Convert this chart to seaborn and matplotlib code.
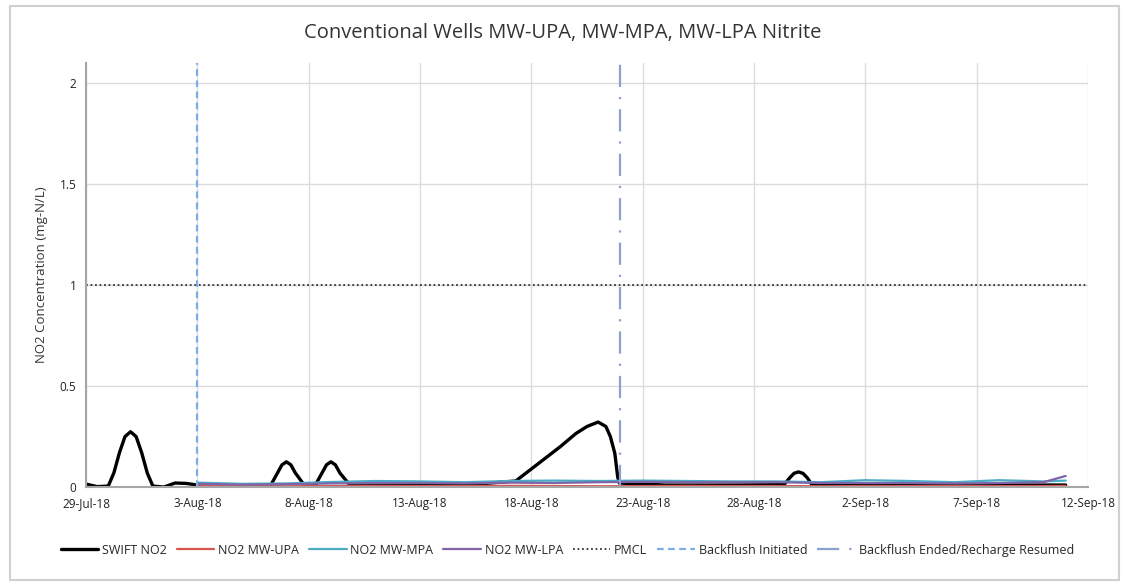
import matplotlib
matplotlib.use("Agg")
import matplotlib.pyplot as plt
import matplotlib.dates as mdates
from matplotlib.patches import Rectangle
import seaborn as sns
import pandas as pd
import numpy as np

# ---------------- data (days after 29-Jul-2018, values in mg-N/L) ----------------
start_date = "2018-07-29"

swift_days = [0, 0.5, 1.0, 1.25, 1.5, 1.75, 2.0, 2.25, 2.5, 2.75, 3.0, 3.5, 4.0, 4.5, 5.0,
              7.0, 8.3, 8.6, 8.8, 9.0, 9.2, 9.4, 9.8, 10.3, 10.6, 10.8, 11.0, 11.2, 11.4, 11.85,
              14.0, 17.0, 19.3, 20.3, 21.3, 22.0, 22.5, 23.0, 23.35, 23.55, 23.75, 23.88, 23.95,
              26.0, 29.0, 31.35, 31.6, 31.8, 32.0, 32.2, 32.4, 32.6, 35.0, 38.0, 41.0, 44.0]
swift_vals = [0.015, 0.002, 0.005, 0.07, 0.17, 0.25, 0.274, 0.25, 0.17, 0.07, 0.005, 0.0, 0.02, 0.018, 0.01,
              0.008, 0.01, 0.07, 0.11, 0.125, 0.11, 0.07, 0.01, 0.01, 0.07, 0.11, 0.125, 0.11, 0.07, 0.01,
              0.01, 0.01, 0.03, 0.115, 0.2, 0.265, 0.3, 0.322, 0.3, 0.25, 0.167, 0.05, 0.02,
              0.01, 0.01, 0.012, 0.045, 0.068, 0.075, 0.068, 0.045, 0.012, 0.01, 0.01, 0.01, 0.01]

well_days = [5, 7, 9, 11, 13, 15, 17, 19, 21, 23, 25, 27, 29, 31, 33, 35, 37, 39, 41, 43, 44]
upa_vals = [0.006, 0.005, 0.004, 0.005, 0.006, 0.005, 0.005, 0.006, 0.005, 0.004, 0.005, 0.006,
            0.005, 0.005, 0.004, 0.005, 0.005, 0.006, 0.005, 0.005, 0.006]
mpa_vals = [0.022, 0.016, 0.018, 0.025, 0.03, 0.028, 0.024, 0.03, 0.032, 0.03, 0.032, 0.03,
            0.028, 0.028, 0.024, 0.034, 0.03, 0.024, 0.034, 0.028, 0.032]
lpa_vals = [0.016, 0.012, 0.014, 0.018, 0.02, 0.02, 0.018, 0.022, 0.02, 0.024, 0.026, 0.024,
            0.024, 0.024, 0.02, 0.02, 0.02, 0.018, 0.02, 0.024, 0.055]

pmcl_value = 1.0
backflush_initiated_day = 5.0
backflush_ended_day = 24.0

x_tick_days = [0, 5, 10, 15, 20, 25, 30, 35, 40, 45]
y_ticks = [0, 0.5, 1, 1.5, 2]
y_tick_labels = ["0", "0.5", "1", "1.5", "2"]

title = "Conventional Wells MW-UPA, MW-MPA, MW-LPA Nitrite"
ylabel = "NO2 Concentration (mg-N/L)"

# ---------------- build frames ----------------
t0 = pd.Timestamp(start_date)
def to_dates(days):
    return t0 + pd.to_timedelta(np.asarray(days, dtype=float), unit="D")

df_swift = pd.DataFrame({"date": to_dates(swift_days), "value": swift_vals})
df_upa = pd.DataFrame({"date": to_dates(well_days), "value": upa_vals})
df_mpa = pd.DataFrame({"date": to_dates(well_days), "value": mpa_vals})
df_lpa = pd.DataFrame({"date": to_dates(well_days), "value": lpa_vals})

# ---------------- plot ----------------
sns.set_theme(style="white")
plt.rcParams["font.family"] = ["Open Sans", "DejaVu Sans"]

fig = plt.figure(figsize=(11.26, 5.84), dpi=100)
ax = fig.add_axes([0.0764, 0.166, 0.8898, 0.726])

sns.lineplot(data=df_swift, x="date", y="value", ax=ax, color="black", lw=2.4, label="SWIFT NO2")
sns.lineplot(data=df_upa, x="date", y="value", ax=ax, color="#d9534f", lw=1.6, label="NO2 MW-UPA")
sns.lineplot(data=df_mpa, x="date", y="value", ax=ax, color="#4bacc6", lw=1.6, label="NO2 MW-MPA")
sns.lineplot(data=df_lpa, x="date", y="value", ax=ax, color="#7f64a8", lw=1.6, label="NO2 MW-LPA")

ax.axhline(pmcl_value, color="#333333", lw=1.3, ls=(0, (1, 1.5)), label="PMCL")
ax.axvline(to_dates([backflush_initiated_day])[0], color="#7aaee6", lw=1.6,
           ls=(0, (3, 2)), label="Backflush Initiated")
ax.axvline(to_dates([backflush_ended_day])[0], color="#8aa2d2", lw=1.6,
           ls=(0, (10, 4.5, 1, 4.5)), label="Backflush Ended/Recharge Resumed")

ax.set_xlim(to_dates([0])[0], to_dates([45])[0])
ax.set_ylim(0, 2.1)
ax.set_xticks(to_dates(x_tick_days))
ax.xaxis.set_major_formatter(plt.FuncFormatter(
    lambda v, p: (lambda d: f"{d.day}-{d.strftime('%b-%y')}")(mdates.num2date(v))))
ax.set_yticks(y_ticks)
ax.set_yticklabels(y_tick_labels)
ax.tick_params(axis="both", labelsize=8.5, colors="#222222", length=0, pad=7)

ax.grid(True, color="#dcdcdc", lw=1.0)
ax.set_axisbelow(True)
for s in ["top", "right"]:
    ax.spines[s].set_visible(False)
for s in ["left", "bottom"]:
    ax.spines[s].set_color("#a6a6a6")
    ax.spines[s].set_linewidth(1.5)

ax.set_xlabel("")
ax.set_ylabel(ylabel, fontsize=9.5, color="#333333", labelpad=8)
fig.text(0.5, 0.943, title, ha="center", va="center", fontsize=14.5, color="#333333")

handles, labels = ax.get_legend_handles_labels()
leg = ax.legend(handles, labels, loc="center left", bbox_to_anchor=(0.054, 0.058),
                bbox_transform=fig.transFigure, ncol=7, frameon=False, fontsize=9,
                handlelength=3.0, handletextpad=0.3, columnspacing=0.8,
                borderaxespad=0, borderpad=0)

fig.patches.append(Rectangle((0.009, 0.006), 0.985, 0.983, transform=fig.transFigure,
                             fill=False, edgecolor="#d0d0d0", lw=1.5))

fig.savefig("out.png", dpi=100, facecolor="white")
